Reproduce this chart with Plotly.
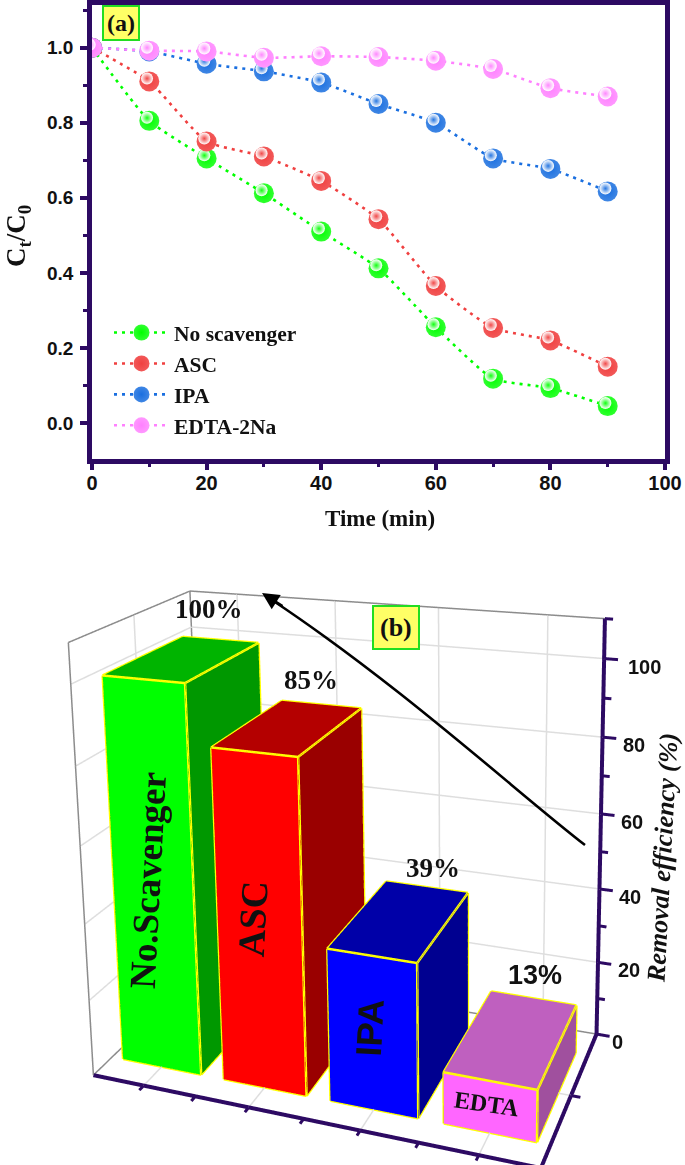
import plotly.graph_objects as go

# ---------- panel (a) data ----------
time_min = [0, 10, 20, 30, 40, 50, 60, 70, 80, 90]
no_scavenger = [1.0, 0.805, 0.705, 0.612, 0.51, 0.412, 0.255, 0.118, 0.093, 0.045]
asc = [1.0, 0.91, 0.75, 0.71, 0.645, 0.543, 0.365, 0.253, 0.22, 0.15]
ipa = [1.0, 0.99, 0.957, 0.937, 0.907, 0.85, 0.80, 0.705, 0.677, 0.617]
edta = [1.0, 0.992, 0.99, 0.973, 0.977, 0.975, 0.965, 0.943, 0.892, 0.87]
series_names = ["No scavenger", "ASC", "IPA", "EDTA-2Na"]
series_colors = ["#00ff00", "#f04040", "#1a6fe0", "#ff80ff"]
center_colors = ["#30ff30", "#f25858", "#3f86e4", "#ff98ff"]

# ---------- panel (b) data ----------
bar_names = ["No.Scavenger", "ASC", "IPA", "EDTA"]
bar_values = [100, 85, 39, 13]
bar_front = ["#00ff00", "#ff0000", "#0000ff", "#ff66ff"]
bar_top = ["#00b400", "#b40000", "#0000a8", "#bf60bf"]
bar_side = ["#009800", "#9a0000", "#000090", "#a0509e"]
z_major = [0, 20, 40, 60, 80, 100]
z_minor = [10, 30, 50, 70, 90, 110]
x_ticks = [1.0, 1.5, 2.0, 2.5, 3.0, 3.5, 4.0]
y_ticks = [0.5]
x_grid = [1, 2, 3, 4]

PURPLE = "#2d0a63"
GRAY = "#8c8c8c"
GRID = "#dedede"
SERIF = "Liberation Serif"
SANS = "Liberation Sans"
H = 1165.0
W = 685.0
XLO, XHI, ZHI = 0.5, 4.5, 110

fig = go.Figure()

# panel (a)
for name, col, cc, vals in zip(series_names, series_colors, center_colors, [no_scavenger, asc, ipa, edta]):
    fig.add_trace(go.Scatter(
        x=time_min, y=vals, name=name, mode="lines+markers",
        line=dict(color=col, width=2.6, dash="3px,5px", shape="spline", smoothing=0.5),
        marker=dict(size=20, color=cc, gradient=dict(type="radial", color=col), line=dict(width=0)),
        xaxis="x", yaxis="y", legendgroup=name, hoverinfo="skip"))
    fig.add_trace(go.Scatter(
        x=[t - 0.4 for t in time_min], y=[v + 0.008 for v in vals], mode="markers", showlegend=False,
        marker=dict(size=12, color="rgba(255,255,255,1)",
                    gradient=dict(type="radial", color="rgba(255,255,255,0)"), line=dict(width=0)),
        xaxis="x", yaxis="y", hoverinfo="skip"))


def seg3d(points_list, color, width):
    ex, ey, ez = [], [], []
    for a, b in points_list:
        ex += [a[0], b[0], None]
        ey += [a[1], b[1], None]
        ez += [a[2], b[2], None]
    fig.add_trace(go.Scatter3d(x=ex, y=ey, z=ez, mode="lines", line=dict(color=color, width=width),
                               hoverinfo="skip", scene="scene", showlegend=False))


# panel (b): gridlines on walls and floor
grid = []
for t in x_grid:
    grid += [((t, 1, 0), (t, 1, ZHI)), ((t, 0, 0), (t, 1, 0))]
for t in z_major[1:]:
    grid += [((XLO, 1, t), (XHI, 1, t)), ((XLO, 0, t), (XLO, 1, t))]
grid += [((XLO, 0.5, 0), (XLO, 0.5, ZHI)), ((XLO, 0.5, 0), (XHI, 0.5, 0))]
seg3d(grid, GRID, 3)

# panel (b): wall frame
seg3d([((XLO, 1, ZHI), (XHI, 1, ZHI)), ((XLO, 0, ZHI), (XLO, 1, ZHI)), ((XLO, 0, 0), (XLO, 0, ZHI)),
       ((XLO, 0, 0), (XLO, 1, 0)), ((XLO, 1, 0), (XLO, 1, ZHI)), ((XLO, 1, 0), (XHI, 1, 0))], GRAY, 3)

# panel (b): bars
WIDTH = 0.78
Y0, Y1 = 0.15, 0.82
for n, v in enumerate(bar_values):
    c = n + 1
    x0, x1 = c - WIDTH / 2, c + WIDTH / 2
    xs = [x0, x1, x1, x0, x0, x1, x1, x0]
    ys = [Y0, Y0, Y1, Y1, Y0, Y0, Y1, Y1]
    zs = [0, 0, 0, 0, v, v, v, v]
    i = [0, 0, 4, 4, 1, 1, 0, 0, 3, 3, 0, 0]
    j = [1, 5, 5, 6, 2, 6, 3, 7, 2, 6, 1, 2]
    k = [5, 4, 6, 7, 6, 5, 7, 4, 6, 7, 2, 3]
    fc = [bar_front[n]] * 2 + [bar_top[n]] * 2 + [bar_side[n]] * 2 + [bar_side[n]] * 6
    fig.add_trace(go.Mesh3d(
        x=xs, y=ys, z=zs, i=i, j=j, k=k, facecolor=fc, flatshading=True,
        lighting=dict(ambient=1, diffuse=0, specular=0, roughness=1, fresnel=0),
        showscale=False, hoverinfo="skip", scene="scene", showlegend=False))
    edges = [(0, 1), (1, 5), (5, 4), (4, 0), (5, 6), (6, 7), (7, 4), (1, 2), (2, 6)]
    pts = list(zip(xs, ys, zs))
    seg3d([(pts[a], pts[b]) for a, b in edges], "#ffff00", 5)

seg3d([((XLO, 0, 0), (XHI, 0, 0)), ((XHI, 0, 0), (XHI, 1, 0)), ((XHI, 1, 0), (XHI, 1, ZHI))], PURPLE, 8)
seg3d([((t, 0, 0), (t, -0.035, 0)) for t in x_ticks] + [((XHI, t, 0), (XHI + 0.08, t, 0)) for t in y_ticks] +
      [((XHI, 1, t), (XHI + 0.12, 1, t)) for t in z_major] + [((XHI, 1, t), (XHI + 0.07, 1, t)) for t in z_minor],
      PURPLE, 6)

axis3d = dict(showbackground=False, showspikes=False, zeroline=False, title=dict(text=""), showgrid=False,
              showline=False, ticks="", showticklabels=False)

pct_dx = [25, 21, 31, 21]
pct_dy = [9, 6, 12, 22]
scene_ann = []
for n, v in enumerate(bar_values):
    scene_ann.append(dict(x=n + 1, y=0.5, z=v + 10, text="%d%%" % v, showarrow=False, xanchor="center", yanchor="middle",
                          xshift=pct_dx[n], yshift=pct_dy[n],
                          font=dict(family=SERIF if n < 3 else SANS, size=27, color="#111", weight=700)))
lab_dx = [-5, -7, -3]
lab_dy = [-2, 5, 6]
for n, v in enumerate(bar_values[:3]):
    scene_ann.append(dict(x=n + 1, y=Y0, z=v * 0.5, text=bar_names[n], showarrow=False, textangle=-87,
                          xanchor="center", yanchor="middle", xshift=lab_dx[n], yshift=lab_dy[n],
                          font=dict(family=SERIF if n < 2 else SANS, size=[37, 38, 36][n], color="#111", weight=700)))
scene_ann.append(dict(x=4, y=Y0, z=5, text=bar_names[3], showarrow=False, textangle=8, xanchor="center", yanchor="middle",
                      xshift=-3, yshift=9, font=dict(family=SERIF, size=24, color="#111", weight=700)))
for t in z_major:
    scene_ann.append(dict(x=XHI, y=1, z=t, text=str(t), showarrow=False, xanchor="center", yanchor="middle",
                          xshift=31 + (9 if t == 100 else 0) - (10 if t < 20 else 0), yshift=-8,
                          font=dict(family=SANS, size=20, color="#111", weight=700)))

fig.update_layout(
    width=W, height=H, margin=dict(l=0, r=0, t=0, b=0), paper_bgcolor="white", plot_bgcolor="white",
    showlegend=True,
    legend=dict(x=109 / W, y=1 - 312 / H, xanchor="left", yanchor="top", bgcolor="rgba(0,0,0,0)",
                font=dict(family=SERIF, size=21.5, color="#111", weight=700),
                tracegroupgap=0, itemwidth=55, itemclick=False),
    xaxis=dict(domain=[92 / W, 665 / W], range=[0, 100], dtick=20, automargin=False,
               minor=dict(dtick=10, ticks="outside", ticklen=4, tickwidth=3, tickcolor=PURPLE),
               ticks="outside", ticklen=7, tickwidth=4, tickcolor=PURPLE, showgrid=False, zeroline=False,
               showline=True, linecolor=PURPLE, linewidth=4.5, mirror=True, ticklabelstandoff=-4,
               tickfont=dict(family=SANS, size=20, color="#111", weight=700)),
    yaxis=dict(domain=[1 - 458.7 / H, 1 - 4.5 / H], range=[-0.0952, 1.115], tick0=0, dtick=0.2, automargin=False,
               minor=dict(dtick=0.1, ticks="outside", ticklen=4, tickwidth=3, tickcolor=PURPLE),
               ticks="outside", ticklen=7, tickwidth=4, tickcolor=PURPLE, showgrid=False, zeroline=False,
               showline=True, linecolor=PURPLE, linewidth=4.5, mirror=True, tickformat=".1f", ticklabelstandoff=3,
               tickfont=dict(family=SANS, size=19, color="#111", weight=700)),
    scene=dict(
        domain=dict(x=[0.05, 1], y=[0, 1]), dragmode=False,
        aspectmode="manual", aspectratio=dict(x=1.064, y=0.5883, z=1.0004),
        camera=dict(eye=dict(x=1.0412, y=-2.6301, z=1.1622), center=dict(x=-0.0198, y=0.1329, z=0.5602),
                    up=dict(x=0.014, y=0.0054, z=1), projection=dict(type="perspective")),
        xaxis=dict(axis3d, range=[0.4, 4.7]),
        yaxis=dict(axis3d, range=[-0.08, 1.03]),
        zaxis=dict(axis3d, range=[-2, 112]),
        annotations=scene_ann),
    annotations=[
        dict(xref="paper", yref="paper", x=380 / W, y=1 - 518 / H, text="Time (min)", showarrow=False,
             xanchor="center", yanchor="middle", font=dict(family=SERIF, size=23, color="#111", weight=700)),
        dict(xref="paper", yref="paper", x=18 / W, y=1 - 236 / H, text="C<sub>t</sub>/C<sub>0</sub>", showarrow=False,
             textangle=-90, xanchor="center", yanchor="middle", font=dict(family=SERIF, size=27, color="#111", weight=700)),
        dict(xref="paper", yref="paper", x=121.5 / W, y=1 - 23 / H, text="(a)", showarrow=False,
             xanchor="center", yanchor="middle",
             bgcolor="#ffff66", bordercolor="#22dd22", borderwidth=2, borderpad=3,
             font=dict(family=SERIF, size=24, color="#111", weight=700)),
        dict(xref="paper", yref="paper", x=396 / W, y=1 - 627 / H, text="(b)", showarrow=False,
             xanchor="center", yanchor="middle",
             bgcolor="#ffff66", bordercolor="#22dd22", borderwidth=2, borderpad=6,
             font=dict(family=SERIF, size=26, color="#111", weight=700)),
        dict(xref="paper", yref="paper", x=662 / W, y=1 - 858 / H, text="Removal efficiency (%)", showarrow=False,
             xanchor="center", yanchor="middle",
             textangle=-87, font=dict(family=SERIF, size=26, color="#111", weight=700, style="italic")),
        dict(xref="paper", yref="paper", x=262 / W, y=1 - 593 / H, ax=22, ay=14, axref="pixel", ayref="pixel",
             text="", showarrow=True, arrowhead=2, arrowsize=1.3, arrowwidth=2.6, arrowcolor="#000"),
    ],
    shapes=[dict(type="path", xref="paper", yref="paper",
                 path="M %f %f C %f %f %f %f %f %f" % (585 / W, 1 - 845 / H, 520 / W, 1 - 795 / H, 400 / W, 1 - 685 / H, 272 / W, 1 - 600 / H),
                 line=dict(color="#000", width=2.6))],
)
fig.write_html("out.html", config=dict(displayModeBar=False),
               post_script="document.body.style.margin='0';document.documentElement.style.overflow='hidden';")
